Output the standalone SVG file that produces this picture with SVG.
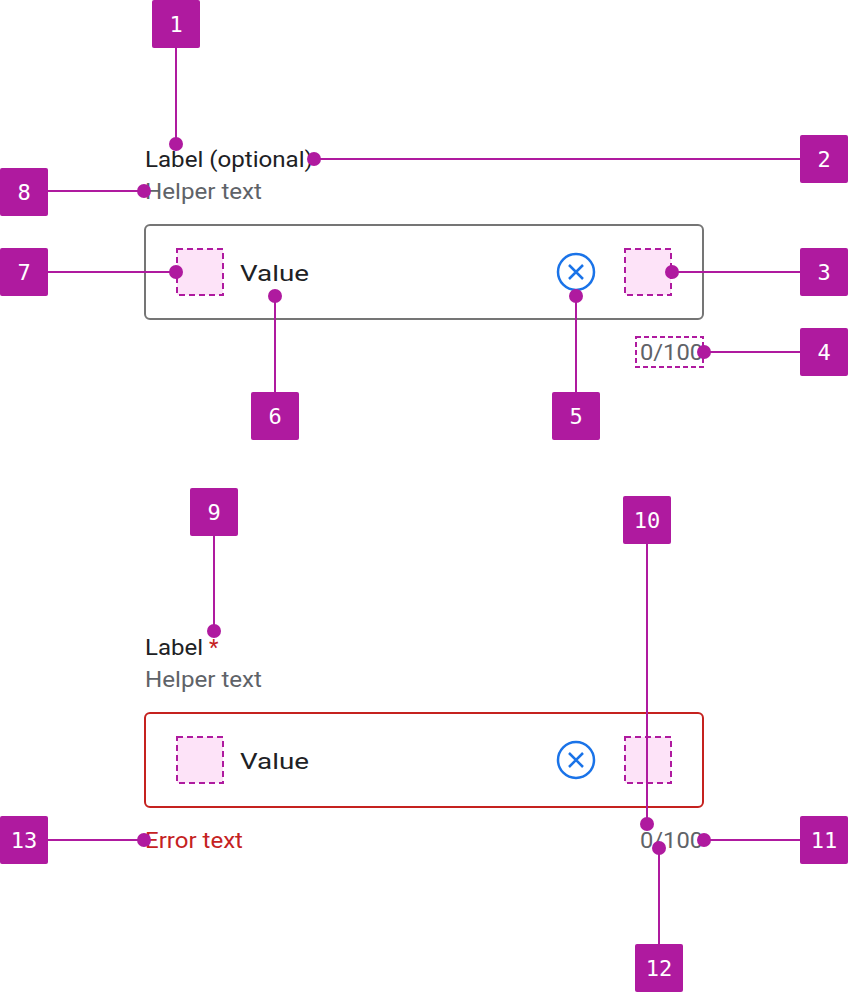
<svg xmlns="http://www.w3.org/2000/svg" width="848" height="992" viewBox="0 0 848 992">
<style>
.b{fill:#AF1A9F}
.bt{fill:#fff;font-family:"DejaVu Sans Mono",monospace;font-size:22px;text-anchor:middle}
.l{stroke:#AF1A9F;stroke-width:2;fill:none}
.d{fill:#AF1A9F}
.t{font-family:Roboto,"Liberation Sans",sans-serif;font-size:22px}
.ph{fill:#FDE3F8;stroke:#AF1A9F;stroke-width:2;stroke-dasharray:6 4}
</style>
<rect width="848" height="992" fill="#fff"/>
<g id="field1">
<text class="t" x="145" y="167" fill="#202124" textLength="168" lengthAdjust="spacingAndGlyphs">Label (optional)</text>
<text class="t" x="145" y="199" fill="#5f6368" textLength="117" lengthAdjust="spacingAndGlyphs">Helper text</text>
<rect x="145" y="225" width="558" height="94" rx="5" fill="none" stroke="#757575" stroke-width="2"/>
<rect class="ph" x="177" y="249" width="46" height="46"/>
<text class="t" x="240" y="281" font-size="25" fill="#202124" textLength="69" lengthAdjust="spacingAndGlyphs">Value</text>
<circle cx="576" cy="272" r="18" fill="none" stroke="#1A73E8" stroke-width="2.5"/>
<path d="M569 265L583 279M583 265L569 279" stroke="#1A73E8" stroke-width="2.5"/>
<rect class="ph" x="625" y="249" width="46" height="46"/>
<rect x="636" y="337" width="67" height="30" fill="none" stroke="#AF1A9F" stroke-width="2" stroke-dasharray="5 3"/>
<text class="t" x="640" y="360" fill="#5f6368" textLength="63" lengthAdjust="spacingAndGlyphs">0/100</text>
</g>
<g id="field2">
<text class="t" x="145" y="655" fill="#202124"><tspan textLength="58" lengthAdjust="spacingAndGlyphs">Label</tspan><tspan x="209" fill="#C5221F">*</tspan></text>
<text class="t" x="145" y="687" fill="#5f6368" textLength="117" lengthAdjust="spacingAndGlyphs">Helper text</text>
<rect x="145" y="713" width="558" height="94" rx="5" fill="none" stroke="#C5221F" stroke-width="2"/>
<rect class="ph" x="177" y="737" width="46" height="46"/>
<text class="t" x="240" y="769" font-size="25" fill="#202124" textLength="69" lengthAdjust="spacingAndGlyphs">Value</text>
<circle cx="576" cy="760" r="18" fill="none" stroke="#1A73E8" stroke-width="2.5"/>
<path d="M569 753L583 767M583 753L569 767" stroke="#1A73E8" stroke-width="2.5"/>
<rect class="ph" x="625" y="737" width="46" height="46"/>
<text class="t" x="145" y="848" fill="#C5221F" textLength="98" lengthAdjust="spacingAndGlyphs">Error text</text>
<text class="t" x="640" y="848" fill="#5f6368" textLength="63" lengthAdjust="spacingAndGlyphs">0/100</text>
</g>
<g id="connectors">
<path class="l" d="M176 48V144M314 159H800M48 191H144M48 272H176M672 272H800M704 352H800M275 296V392M576 296V392M214 536V631M647 544V824M48 840H144M704 840H800M659 848V944"/>
<circle class="d" cx="176" cy="144" r="7"/><circle class="d" cx="314" cy="159" r="7"/>
<circle class="d" cx="144" cy="191" r="7"/><circle class="d" cx="176" cy="272" r="7"/>
<circle class="d" cx="672" cy="272" r="7"/><circle class="d" cx="704" cy="352" r="7"/>
<circle class="d" cx="275" cy="296" r="7"/><circle class="d" cx="576" cy="296" r="7"/>
<circle class="d" cx="214" cy="631" r="7"/><circle class="d" cx="647" cy="824" r="7"/>
<circle class="d" cx="144" cy="840" r="7"/><circle class="d" cx="704" cy="840" r="7"/>
<circle class="d" cx="659" cy="848" r="7"/>
</g>
<g id="b1"><rect class="b" x="152" y="0" width="48" height="48" rx="2"/><text class="bt" x="176" y="32">1</text></g>
<g id="b2"><rect class="b" x="800" y="135" width="48" height="48" rx="2"/><text class="bt" x="824" y="167">2</text></g>
<g id="b3"><rect class="b" x="800" y="248" width="48" height="48" rx="2"/><text class="bt" x="824" y="280">3</text></g>
<g id="b4"><rect class="b" x="800" y="328" width="48" height="48" rx="2"/><text class="bt" x="824" y="360">4</text></g>
<g id="b5"><rect class="b" x="552" y="392" width="48" height="48" rx="2"/><text class="bt" x="576" y="424">5</text></g>
<g id="b6"><rect class="b" x="251" y="392" width="48" height="48" rx="2"/><text class="bt" x="275" y="424">6</text></g>
<g id="b7"><rect class="b" x="0" y="248" width="48" height="48" rx="2"/><text class="bt" x="24" y="280">7</text></g>
<g id="b8"><rect class="b" x="0" y="168" width="48" height="48" rx="2"/><text class="bt" x="24" y="200">8</text></g>
<g id="b9"><rect class="b" x="190" y="488" width="48" height="48" rx="2"/><text class="bt" x="214" y="520">9</text></g>
<g id="b10"><rect class="b" x="623" y="496" width="48" height="48" rx="2"/><text class="bt" x="647" y="528">10</text></g>
<g id="b11"><rect class="b" x="800" y="816" width="48" height="48" rx="2"/><text class="bt" x="824" y="848">11</text></g>
<g id="b12"><rect class="b" x="635" y="944" width="48" height="48" rx="2"/><text class="bt" x="659" y="976">12</text></g>
<g id="b13"><rect class="b" x="0" y="816" width="48" height="48" rx="2"/><text class="bt" x="24" y="848">13</text></g>
</svg>
